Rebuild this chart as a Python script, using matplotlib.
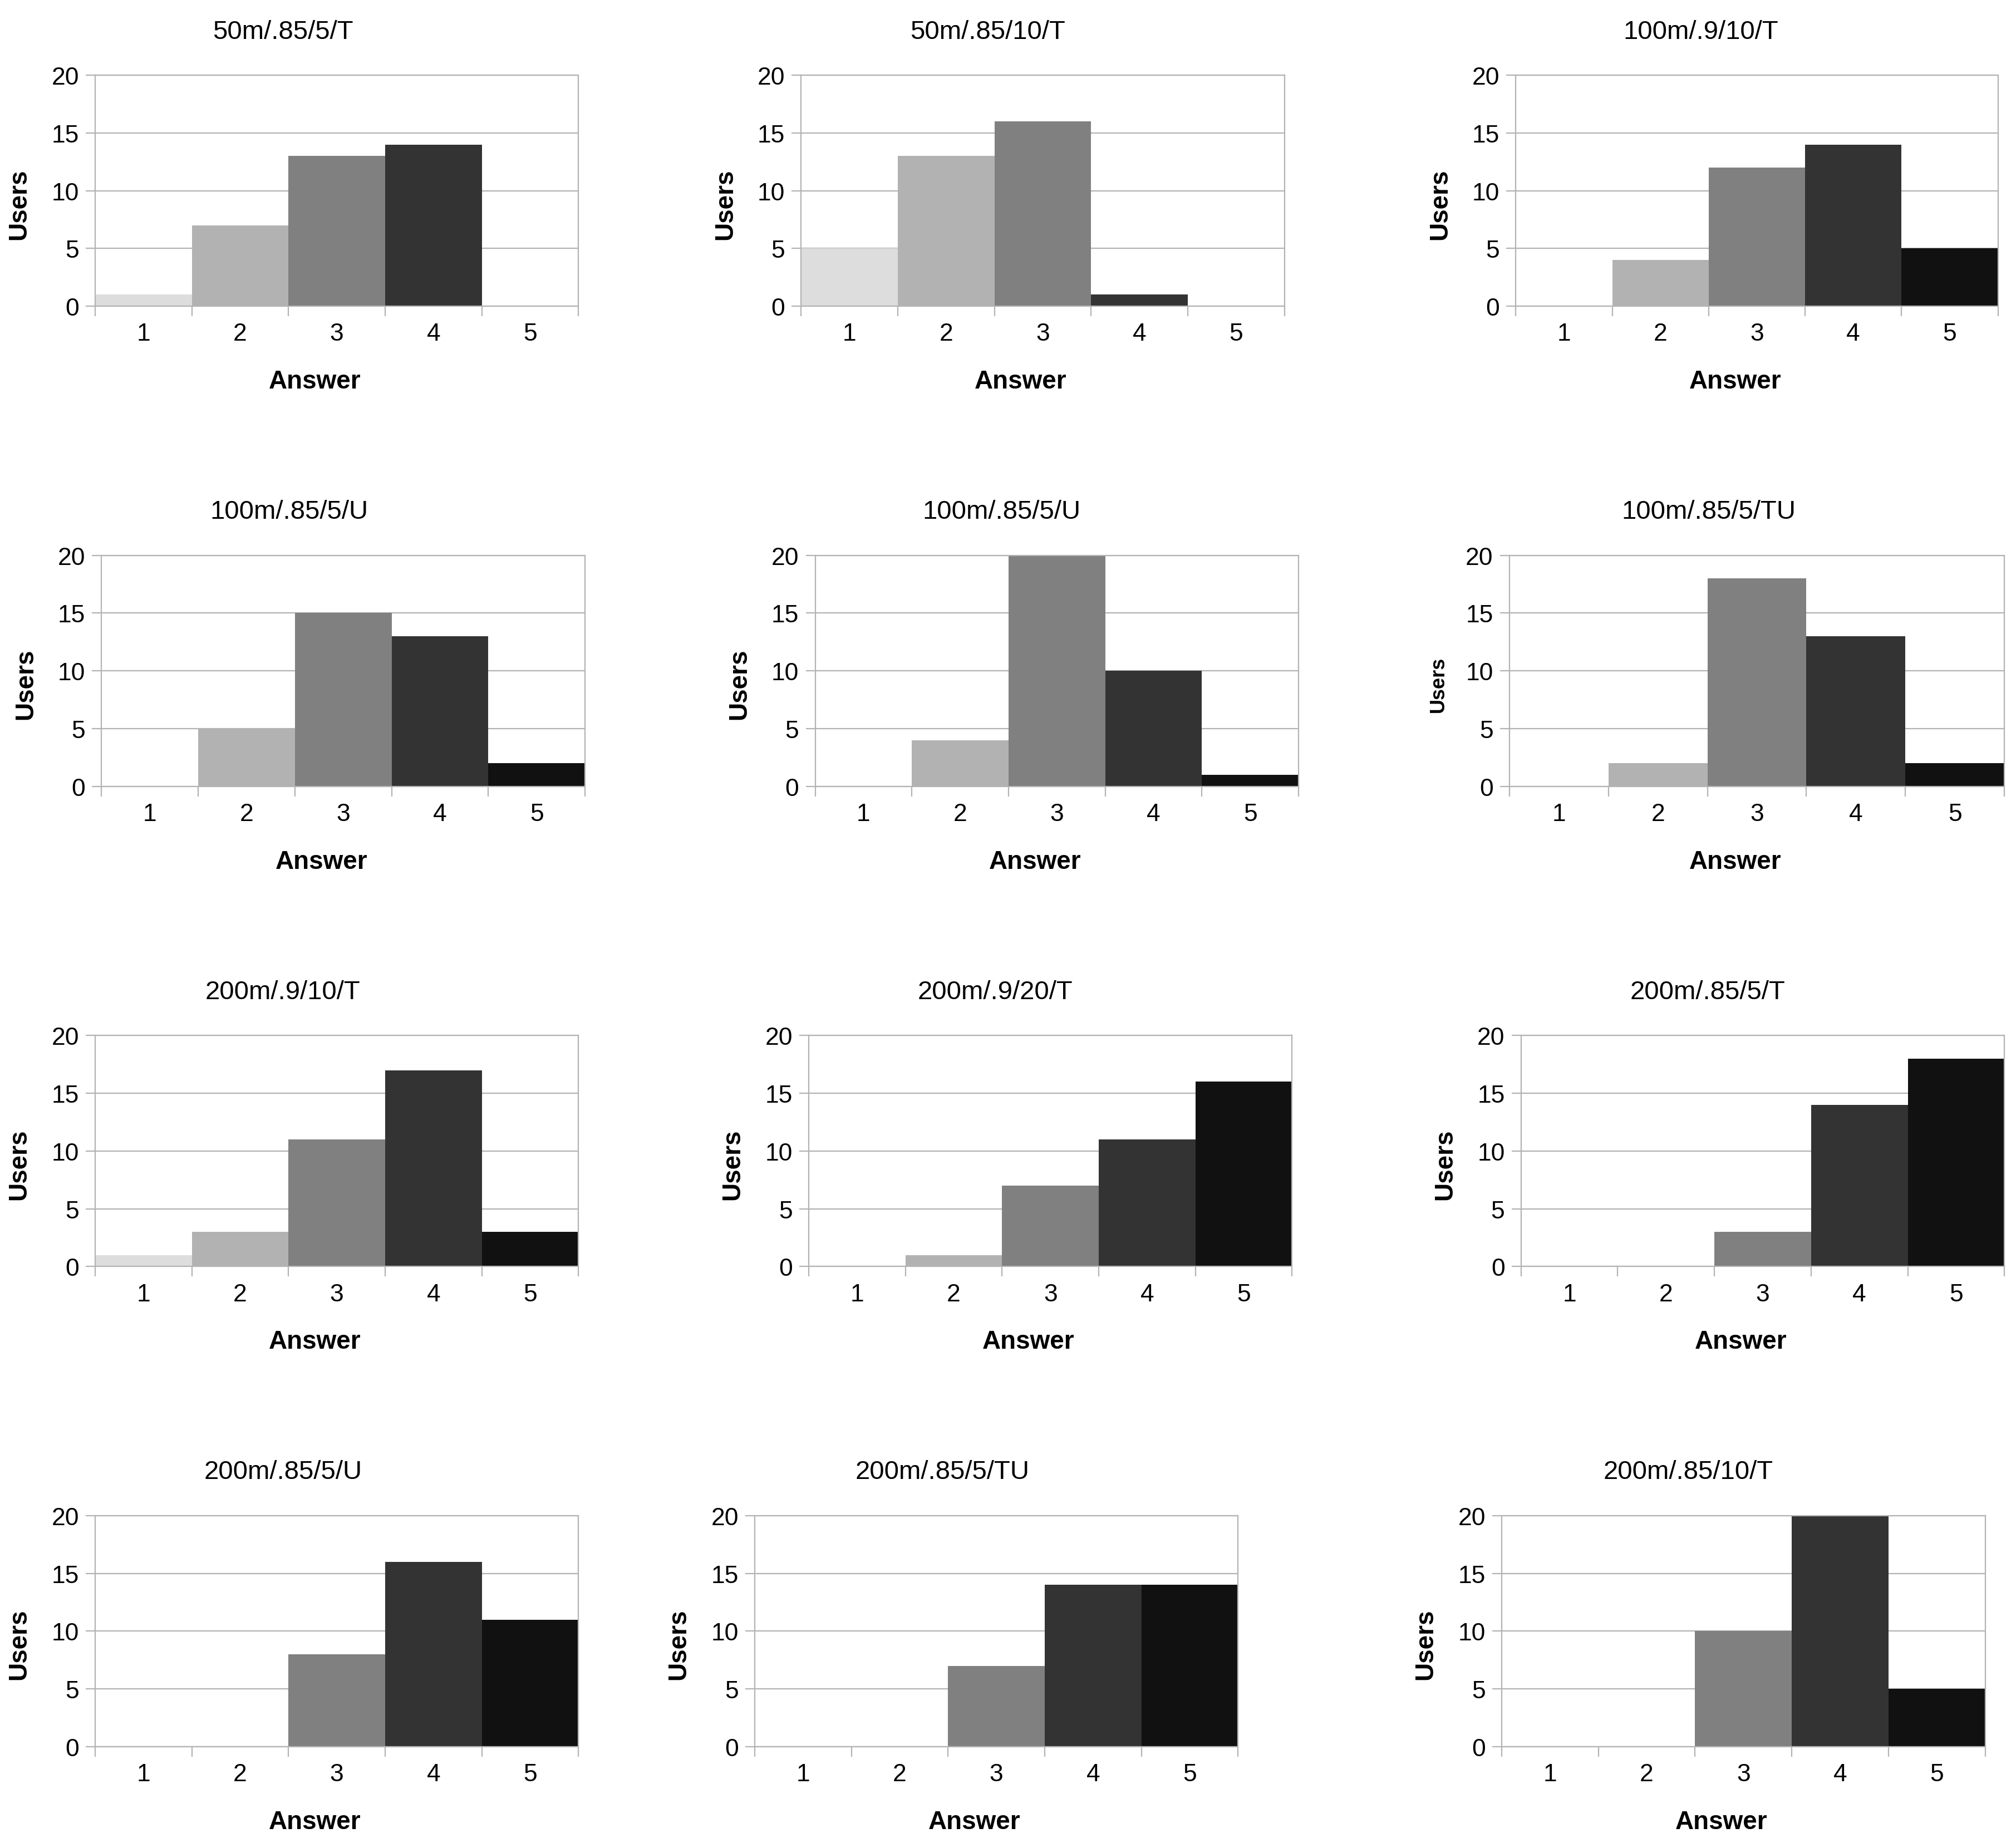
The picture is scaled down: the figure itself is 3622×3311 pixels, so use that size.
import numpy as np
import matplotlib.pyplot as plt

plt.rcParams['font.family'] = ['Liberation Sans', 'DejaVu Sans']

#   Данные по панелям
titles = ["50m/.85/5/T", "50m/.85/10/T", "100m/.9/10/T",
          "100m/.85/5/U", "100m/.85/5/U", "100m/.85/5/TU",
          "200m/.9/10/T", "200m/.9/20/T", "200m/.85/5/T",
          "200m/.85/5/U", "200m/.85/5/TU", "200m/.85/10/T"]
answers = [1, 2, 3, 4, 5]
users_1 = [1, 7, 13, 14, 0]
users_2 = [5, 13, 16, 1, 0]
users_3 = [0, 4, 12, 14, 5]
users_4 = [0, 5, 15, 13, 2]
users_5 = [0, 4, 20, 10, 1]
users_6 = [0, 2, 18, 13, 2]
users_7 = [1, 3, 11, 17, 3]
users_8 = [0, 1, 7, 11, 16]
users_9 = [0, 0, 3, 14, 18]
users_10 = [0, 0, 8, 16, 11]
users_11 = [0, 0, 7, 14, 14]
users_12 = [0, 0, 10, 20, 5]
users = [users_1, users_2, users_3, users_4, users_5, users_6,
         users_7, users_8, users_9, users_10, users_11, users_12]
colors = ['#dddddd', '#b2b2b2', '#808080', '#333333', '#111111']

#   Положение осей (пиксели уменьшенной картинки 1568x1436)
W, H = 1568.0, 1436.0
lefts = [74, 623, 1179, 79, 634, 1174, 74, 629, 1183, 74, 587, 1168]
widths = [376, 376, 375, 376, 376, 385, 376, 376, 376, 376, 376, 376]
tops = [59, 433, 807, 1181]
ax_h = 180
title_x = [220, 768, 1323, 225, 779, 1329, 220, 774, 1328, 220, 733, 1313]

grey = '#b3b3b3'
fs_tick = 32
fs_title = 34
fs_lab = 33

fig = plt.figure(figsize=(36.22, 33.12), dpi=100)
for i in range(12):
    top = tops[i // 3]
    ax = fig.add_axes([lefts[i] / W, 1 - (top + ax_h) / H, widths[i] / W, ax_h / H])
    ax.bar(answers, users[i], width=1.0, color=colors, edgecolor='none', zorder=2)
    ax.set_xlim(0.5, 5.5)
    ax.set_ylim(0, 20)
    ax.set_yticks([0, 5, 10, 15, 20])
    ax.yaxis.grid(True, color=grey, linewidth=1.6, zorder=0)
    ax.set_axisbelow(True)
    ax.set_xticks(np.arange(0.5, 6, 1.0))
    ax.set_xticklabels([])
    ax.set_xticks(answers, minor=True)
    ax.set_xticklabels([str(a) for a in answers], minor=True)
    ax.tick_params(axis='x', which='major', direction='out', length=13, width=1.6, color=grey)
    ax.tick_params(axis='x', which='minor', length=0, pad=21, labelsize=fs_tick)
    ax.tick_params(axis='y', direction='out', length=12, width=1.6, color=grey, pad=9,
                   labelsize=fs_tick)
    for s in ax.spines.values():
        s.set_color(grey)
        s.set_linewidth(1.6)
    ax.text((title_x[i] - lefts[i]) / widths[i], 1.16, titles[i],
            ha='center', va='baseline', fontsize=fs_title, transform=ax.transAxes)
    ax.text(0.5 - 17.0 / widths[i], -0.354, "Answer", ha='center', va='baseline',
            fontsize=fs_lab, fontweight='bold', transform=ax.transAxes)
    ysize = 26 if i == 5 else fs_lab
    yoff = 55.0 if i == 5 else 59.0
    ax.text(-yoff / widths[i], 0.444, "Users", ha='center', va='center', rotation=90,
            fontsize=ysize, fontweight='bold', transform=ax.transAxes)

fig.savefig("out.png", dpi=100, facecolor='white')
